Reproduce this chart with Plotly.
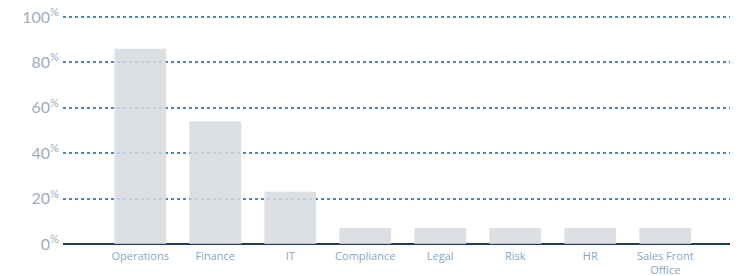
import plotly.graph_objects as go

categories = ["Operations", "Finance", "IT", "Compliance", "Legal", "Risk", "HR", "Sales Front<br>Office"]
values = [86, 54, 23, 7, 7, 7, 7, 7]
tick_vals = [0, 20, 40, 60, 80, 100]
tick_text = ["0<sup>%</sup>", "20<sup>%</sup>", "40<sup>%</sup>", "60<sup>%</sup>", "80<sup>%</sup>", "100<sup>%</sup>"]

fig = go.Figure(go.Bar(
    x=list(range(len(categories))), y=values,
    marker=dict(color="rgba(214,218,223,0.85)", line=dict(width=0)),
    width=0.69,
))

# page body has an 8px default margin, so the figure is sized to the remaining window
fig.update_layout(
    width=730, height=268,
    margin=dict(l=55, r=0, t=5, b=32, autoexpand=False),
    paper_bgcolor="white", plot_bgcolor="white",
    showlegend=False,
    font=dict(family="Lato", color="#8aa6bf"),
    xaxis=dict(
        range=[-1.03, 7.97], automargin=False,
        tickmode="array", tickvals=list(range(len(categories))), ticktext=categories,
        showgrid=False, zeroline=False, showline=False, ticks="",
        tickfont=dict(family="Open Sans", size=11, color="#87a6c4"),
        ticklabelstandoff=4,
    ),
    yaxis=dict(
        range=[0, 101.8], automargin=False,
        tickmode="array", tickvals=tick_vals, ticktext=tick_text,
        showgrid=True, gridcolor="#5283b3", griddash="dot", gridwidth=2,
        zeroline=True, zerolinecolor="#1f3a5f", zerolinewidth=2,
        tickfont=dict(family="Lato", size=16, color="#9cadbd"),
        ticks="", ticklabelstandoff=3, ticklabelshift=0,
        ticklabeloverflow="allow",
    ),
)

fig.write_html("out.html")
